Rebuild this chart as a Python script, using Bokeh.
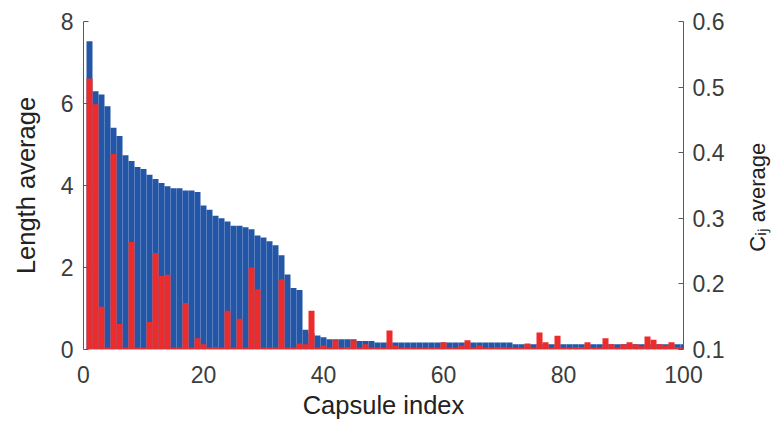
import numpy as np
from bokeh.plotting import figure
from bokeh.models import Range1d, LinearAxis, FixedTicker, ColumnDataSource
from bokeh.embed import file_html
from bokeh.resources import INLINE

capsule_index = list(range(1, 101))

length_avg = [
    7.52, 6.30, 6.22, 5.93, 5.41, 5.21, 4.74, 4.60, 4.45, 4.40,
    4.26, 4.16, 4.06, 3.98, 3.93, 3.93, 3.88, 3.88, 3.84, 3.51,
    3.41, 3.26, 3.20, 3.12, 3.02, 3.02, 2.98, 2.93, 2.78, 2.73,
    2.64, 2.54, 2.30, 1.83, 1.50, 1.45, 0.48, 0.40, 0.34, 0.30,
    0.25, 0.25, 0.25, 0.25, 0.25, 0.21, 0.21, 0.21, 0.17, 0.17,
    0.17, 0.17, 0.17, 0.17, 0.17, 0.17, 0.17, 0.17, 0.17, 0.17,
    0.17, 0.17, 0.17, 0.17, 0.17, 0.17, 0.17, 0.17, 0.17, 0.17,
    0.17, 0.13, 0.13, 0.13, 0.13, 0.13, 0.13, 0.13, 0.13, 0.13,
    0.13, 0.13, 0.13, 0.13, 0.13, 0.13, 0.13, 0.13, 0.13, 0.13,
    0.13, 0.13, 0.13, 0.13, 0.13, 0.13, 0.13, 0.13, 0.13, 0.13,
]

cij_avg = [
    0.513, 0.474, 0.165, 0.103, 0.398, 0.139, 0.103, 0.264, 0.103, 0.103,
    0.142, 0.247, 0.212, 0.214, 0.103, 0.103, 0.171, 0.103, 0.117, 0.108,
    0.103, 0.104, 0.103, 0.159, 0.103, 0.147, 0.103, 0.225, 0.192, 0.103,
    0.103, 0.103, 0.207, 0.103, 0.103, 0.109, 0.108, 0.159, 0.103, 0.106,
    0.103, 0.114, 0.103, 0.104, 0.114, 0.103, 0.108, 0.103, 0.103, 0.103,
    0.129, 0.106, 0.103, 0.103, 0.103, 0.103, 0.103, 0.103, 0.103, 0.111,
    0.103, 0.103, 0.106, 0.114, 0.103, 0.106, 0.103, 0.103, 0.104, 0.104,
    0.103, 0.103, 0.103, 0.109, 0.103, 0.126, 0.111, 0.103, 0.121, 0.103,
    0.103, 0.104, 0.104, 0.111, 0.103, 0.103, 0.117, 0.108, 0.103, 0.108,
    0.111, 0.108, 0.105, 0.120, 0.115, 0.108, 0.106, 0.111, 0.104, 0.103,
]

x_ticks = [0, 20, 40, 60, 80, 100]
left_ticks = [0, 2, 4, 6, 8]
right_ticks = [0.1, 0.2, 0.3, 0.4, 0.5, 0.6]

BLUE = "#2356a6"
RED = "#ee2b2b"
TICK_COLOR = "#3c3c3c"
LABEL_COLOR = "#222222"
AXIS_COLOR = "#5a5a5a"
FONT = "Liberation Sans"

src = ColumnDataSource(dict(x=capsule_index, length=length_avg, cij=cij_avg))

p = figure(
    frame_width=600, frame_height=328,
    x_range=Range1d(0, 100), y_range=Range1d(0, 8),
    output_backend="svg", toolbar_location=None,
    min_border_left=83, min_border_right=91, min_border_top=21, min_border_bottom=77,
)
p.extra_y_ranges = {"right": Range1d(0.1, 0.6)}

p.vbar(x="x", top="length", bottom=0, width=1.0, source=src,
       fill_color=BLUE, line_color=None)
p.vbar(x="x", top="cij", bottom=0.1, width=1.0, source=src,
       fill_color=RED, line_color=None, y_range_name="right")

right_axis = LinearAxis(y_range_name="right")
p.add_layout(right_axis, "right")

p.xgrid.visible = False
p.ygrid.visible = False
p.outline_line_color = None
p.background_fill_color = "white"
p.border_fill_color = "white"

for ax in [p.xaxis[0], p.yaxis[0], right_axis]:
    ax.axis_line_color = AXIS_COLOR
    ax.axis_line_width = 1
    ax.major_tick_line_color = AXIS_COLOR
    ax.major_tick_out = 0
    ax.major_tick_in = 5
    ax.minor_tick_line_color = None
    ax.major_label_text_font = FONT
    ax.major_label_text_font_size = "23px"
    ax.major_label_text_color = TICK_COLOR
    ax.axis_label_text_font = FONT
    ax.axis_label_text_font_size = "25.5px"
    ax.axis_label_text_font_style = "normal"
    ax.axis_label_text_color = LABEL_COLOR

p.xaxis[0].ticker = FixedTicker(ticks=x_ticks)
p.yaxis[0].ticker = FixedTicker(ticks=left_ticks)
right_axis.ticker = FixedTicker(ticks=right_ticks)

p.xaxis[0].major_tick_in = 0
p.xaxis[0].axis_line_color = None
p.xaxis[0].major_label_standoff = 16
p.xaxis[0].axis_label = "Capsule index"
p.xaxis[0].axis_label_standoff = 5

p.yaxis[0].major_label_standoff = 10
p.yaxis[0].axis_label = "Length average"
p.yaxis[0].axis_label_standoff = 18

right_axis.major_label_standoff = 9
right_axis.axis_label = "\u00a0" * 16 + "C\u1d62\u2c7c average"
right_axis.axis_label_text_font_size = "22px"
right_axis.axis_label_align = "start"
right_axis.axis_label_standoff = 30
right_axis.axis_label_orientation = np.pi / 2

open("out.html", "w").write(file_html(p, INLINE))
